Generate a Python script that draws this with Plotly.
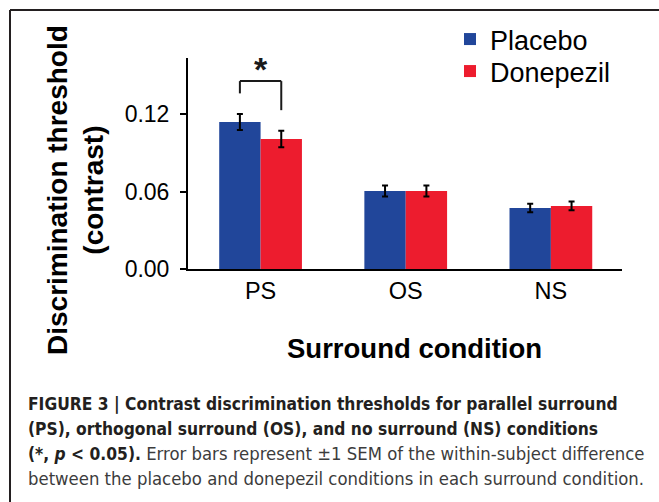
import plotly.graph_objects as go

# ---- data ----
conditions = ["PS", "OS", "NS"]
placebo = [0.1138, 0.0604, 0.0472]
placebo_sem = [0.0062, 0.0043, 0.0033]
donepezil = [0.1006, 0.0604, 0.0488]
donepezil_sem = [0.0064, 0.0042, 0.0034]
y_ticks = [0.00, 0.06, 0.12]
y_tick_labels = ["0.00", "0.06", "0.12"]
sig_condition = "PS"
sig_label = "*"

BLUE = "#21469A"
RED = "#ED1C2E"
INK = "#1a1a1a"

W, H = 659, 502
L, R, T, B = 188, 37, 58, 233
PW, PH = W - L - R, H - T - B


def px(x):
    return (x - L) / PW


def py(y):
    return (H - B - y) / PH


fig = go.Figure()
fig.add_trace(go.Bar(
    name="Placebo", x=conditions, y=placebo, marker=dict(color=BLUE, line=dict(width=0)),
    legend="legend",
    error_y=dict(type="data", array=placebo_sem, color="black", thickness=2, width=3),
))
fig.add_trace(go.Bar(
    name="Donepezil", x=conditions, y=donepezil, marker=dict(color=RED, line=dict(width=0)),
    legend="legend2",
    error_y=dict(type="data", array=donepezil_sem, color="black", thickness=2, width=3),
))

BARGAP = 0.43
half = (1 - BARGAP) / 4  # offset of each bar centre from category centre
ymax = 0.1634

# significance bracket above the PS pair
i = conditions.index(sig_condition)
left_top = placebo[i] + placebo_sem[i]
right_top = donepezil[i] + donepezil_sem[i]
gap = 0.016
bracket_y = max(left_top, right_top) + 0.0255
line = dict(color=INK, width=2)
fig.add_shape(type="line", xref="x", yref="y", x0=i - half, x1=i - half,
              y0=left_top + gap, y1=bracket_y, line=line)
fig.add_shape(type="line", xref="x", yref="y", x0=i - half, x1=i + half,
              y0=bracket_y, y1=bracket_y, line=line)
fig.add_shape(type="line", xref="x", yref="y", x0=i + half, x1=i + half,
              y0=right_top + gap, y1=bracket_y, line=line)
fig.add_annotation(x=i, y=bracket_y + 0.0095, xref="x", yref="y", text="<b>" + sig_label + "</b>",
                   showarrow=False, font=dict(size=34, color=INK, family="Liberation Sans"),
                   xanchor="center", yanchor="middle")

# frame lines of the figure panel
frame = dict(color="#231f20", width=2)
fig.add_shape(type="line", xref="paper", yref="paper", x0=px(10), x1=px(W + 5),
              y0=py(10), y1=py(10), line=frame)
fig.add_shape(type="line", xref="paper", yref="paper", x0=px(10), x1=px(10),
              y0=py(10), y1=py(H + 5), line=frame)

# axis titles
fig.add_annotation(xref="paper", yref="paper", x=px(75), y=py(190),
                   text="<b>Discrimination threshold</b><br><b>(contrast)</b>",
                   textangle=-90, showarrow=False, xanchor="center", yanchor="middle",
                   font=dict(size=28, color="black", family="Liberation Sans"))
fig.add_annotation(xref="paper", yref="paper", x=px(414), y=py(348),
                   text="<b>Surround condition</b>", showarrow=False,
                   xanchor="center", yanchor="middle",
                   font=dict(size=27.5, color="black", family="Liberation Sans"))

# caption
cap_font = "Liberation Sans Narrow, Arial Narrow, DejaVu Sans Condensed, Liberation Sans"
BS = "<b style='font-size:17.3px'>"
GREY = "<span style='color:#3c3c3c'>"
caption_lines = [
    BS + "FIGURE 3 | Contrast discrimination thresholds for parallel surround</b>",
    BS + "(PS), orthogonal surround (OS), and no surround (NS) conditions</b>",
    BS + "(*, <i>p</i> &lt; 0.05).</b>" + GREY + " Error bars represent \u00b11 SEM of the within-subject difference</span>",
    GREY + "between the placebo and donepezil conditions in each surround condition.</span>",
]
baselines = [410, 435, 460, 485]
for txt, bl in zip(caption_lines, baselines):
    fig.add_annotation(xref="paper", yref="paper", x=px(26), y=py(bl - 6),
                       text=txt, showarrow=False, xanchor="left", yanchor="middle",
                       font=dict(size=18.35, color="#231f20", family=cap_font))

leg_common = dict(xanchor="left", yanchor="middle", font=dict(size=27, color="black"),
                  bgcolor="rgba(0,0,0,0)", borderwidth=0)
fig.update_layout(
    width=W, height=H,
    margin=dict(l=L, r=R, t=T, b=B, pad=0),
    paper_bgcolor="white", plot_bgcolor="white",
    barmode="group", bargap=BARGAP, bargroupgap=0,
    font=dict(family="Liberation Sans", color="black"),
    legend=dict(x=px(450), y=py(39.5), **leg_common),
    legend2=dict(x=px(450), y=py(71.5), **leg_common),
    showlegend=True,
)
fig.update_xaxes(range=[-0.5, 2.49], showline=True, linewidth=2, linecolor="black",
                 ticks="", tickfont=dict(size=23.5, color="black"), showgrid=False,
                 zeroline=False, fixedrange=True)
fig.update_yaxes(range=[0, ymax], showline=True, linewidth=2, linecolor="black",
                 ticks="outside", ticklen=6, tickwidth=2, tickcolor="black",
                 tickvals=y_ticks, ticktext=y_tick_labels,
                 tickfont=dict(size=23, color="black"), showgrid=False,
                 zeroline=False, ticklabelstandoff=6, fixedrange=True)

fig.write_html("out.html", config={"displayModeBar": False},
               post_script="document.body.style.margin='0';document.body.style.overflow='hidden';")
